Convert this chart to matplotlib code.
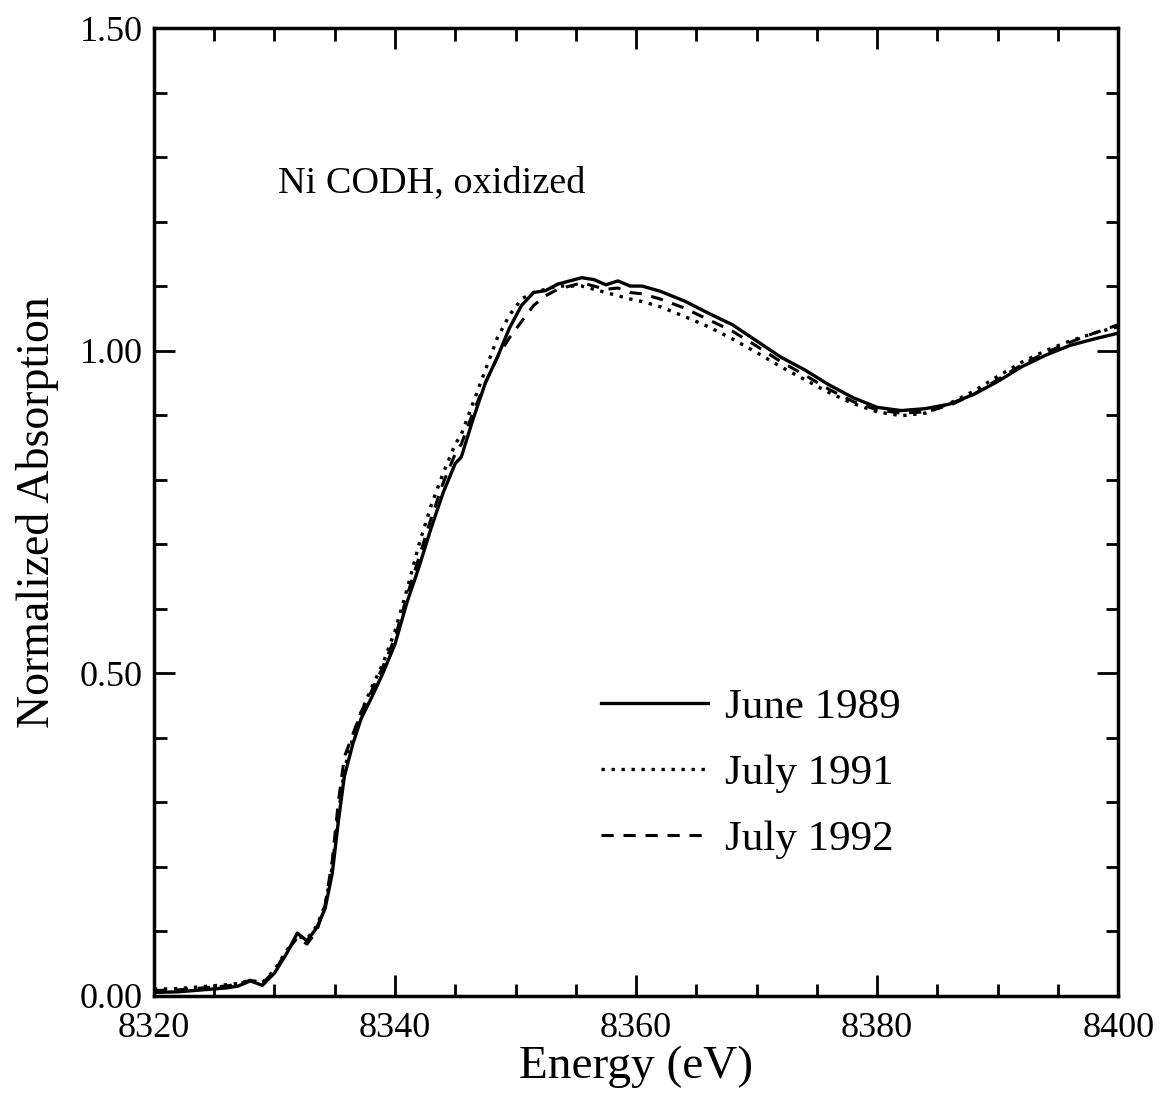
import matplotlib
matplotlib.use('Agg')
from matplotlib import pyplot as plt
from matplotlib.ticker import MultipleLocator, FormatStrFormatter

plt.rcParams['font.family'] = ['Liberation Serif', 'DejaVu Serif']

# Ni K-edge XANES, oxidized CODH, three data collection runs
energy = [8320, 8322, 8324, 8326, 8327, 8328, 8329, 8330, 8331, 8331.9,
          8332.7, 8333.5, 8334.2, 8334.8, 8335.3, 8335.8, 8336.5, 8337.2, 8338, 8339,
          8340, 8341, 8342, 8343, 8344, 8345, 8345.5, 8346.5, 8347.5, 8348.5,
          8349.5, 8350.5, 8351.5, 8352.5, 8353.5, 8354.5, 8355.5, 8356.5, 8357.5, 8358.5,
          8359.5, 8360.5, 8362, 8364, 8366, 8368, 8370, 8372, 8374, 8376,
          8378, 8380, 8382, 8384, 8386, 8388, 8390, 8392, 8394, 8396,
          8398, 8400]

june_1989 = [0.005, 0.006, 0.009, 0.012, 0.015, 0.023, 0.016, 0.035, 0.065, 0.097,
             0.085, 0.105, 0.135, 0.19, 0.27, 0.34, 0.39, 0.43, 0.46, 0.50,
             0.545, 0.61, 0.665, 0.725, 0.78, 0.825, 0.835, 0.895, 0.95, 0.99,
             1.035, 1.07, 1.09, 1.093, 1.103, 1.108, 1.113, 1.11, 1.102, 1.108,
             1.10, 1.10, 1.092, 1.077, 1.058, 1.04, 1.015, 0.99, 0.97, 0.947,
             0.927, 0.912, 0.907, 0.91, 0.917, 0.932, 0.952, 0.975, 0.993, 1.008,
             1.018, 1.027]

july_1991 = [0.01, 0.011, 0.014, 0.017, 0.019, 0.024, 0.02, 0.04, 0.07, 0.092,
             0.088, 0.108, 0.14, 0.20, 0.28, 0.35, 0.40, 0.44, 0.475, 0.515,
             0.565, 0.63, 0.70, 0.76, 0.81, 0.855, 0.87, 0.92, 0.97, 1.02,
             1.055, 1.08, 1.09, 1.095, 1.10, 1.10, 1.10, 1.095, 1.09, 1.085,
             1.08, 1.076, 1.068, 1.053, 1.037, 1.018, 0.997, 0.975, 0.955, 0.935,
             0.918, 0.905, 0.899, 0.903, 0.918, 0.937, 0.96, 0.982, 1.0, 1.015,
             1.027, 1.037]

july_1992 = [0.008, 0.009, 0.012, 0.015, 0.018, 0.024, 0.019, 0.038, 0.068, 0.09,
             0.08, 0.10, 0.14, 0.21, 0.30, 0.37, 0.405, 0.44, 0.47, 0.51,
             0.555, 0.62, 0.68, 0.74, 0.795, 0.84, 0.855, 0.905, 0.95, 0.99,
             1.02, 1.045, 1.07, 1.085, 1.095, 1.10, 1.105, 1.10, 1.095, 1.097,
             1.09, 1.088, 1.08, 1.066, 1.048, 1.03, 1.007, 0.983, 0.962, 0.94,
             0.921, 0.908, 0.903, 0.905, 0.915, 0.932, 0.955, 0.978, 0.997, 1.013,
             1.027, 1.04]

fig = plt.figure(figsize=(11.66, 10.99), dpi=100)
ax = fig.add_axes([0.132, 0.094, 0.827, 0.8805])

ax.plot(energy, june_1989, color='black', lw=2.4, ls='-', label='June 1989')
ax.plot(energy, july_1991, color='black', lw=2.4, ls=(0, (1, 2.0)), label='July 1991')
ax.plot(energy, july_1992, color='black', lw=2.2, ls=(0, (4, 3.2)), label='July 1992')

ax.set_xlim(8320, 8400)
ax.set_ylim(0, 1.5)
ax.xaxis.set_major_locator(MultipleLocator(20))
ax.xaxis.set_minor_locator(MultipleLocator(5))
ax.yaxis.set_major_locator(MultipleLocator(0.5))
ax.yaxis.set_minor_locator(MultipleLocator(0.1))
ax.yaxis.set_major_formatter(FormatStrFormatter('%.2f'))

ax.tick_params(which='both', direction='in', top=True, right=True,
               labelsize=26, width=2)
ax.tick_params(which='major', length=15)
ax.tick_params(which='minor', length=9)
ax.tick_params(axis='x', which='major', pad=12)
ax.tick_params(axis='y', which='major', pad=8)
for sp in ax.spines.values():
    sp.set_linewidth(2.5)

ax.set_xlabel('Energy (eV)', fontsize=34, labelpad=0)
ax.set_ylabel('Normalized Absorption', fontsize=33, labelpad=15)

ax.text(8330.3, 1.26, 'Ni CODH, oxidized', fontsize=27.5, ha='left', va='center')

ax.legend(loc='upper left', bbox_to_anchor=(0.423, 0.358), frameon=False,
          fontsize=31, handlelength=2.5, handletextpad=0.4, labelspacing=0.62)

plt.savefig('out.png', dpi=100)
